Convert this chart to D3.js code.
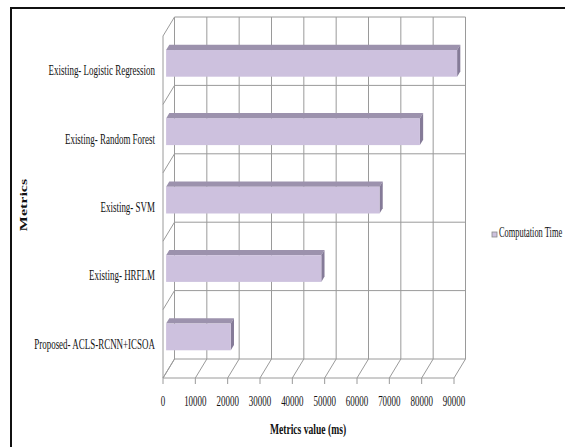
<!DOCTYPE html>
<html>
<head>
<meta charset="utf-8">
<script src="https://cdn.jsdelivr.net/npm/d3@7"></script>
<style>
  body { margin: 0; background: #fff; }
  svg { display: block; }
  text { font-family: "Liberation Serif", "Times New Roman", serif; fill: #111; }
</style>
</head>
<body>
<svg id="chart" width="565" height="447"></svg>
<script>
// Chart data
const categories = [
  "Existing- Logistic Regression",
  "Existing- Random Forest",
  "Existing- SVM",
  "Existing- HRFLM",
  "Proposed- ACLS-RCNN+ICSOA"
];
const computationTime = [90000, 78500, 66000, 48000, 20000];
const xTicks = [0, 10000, 20000, 30000, 40000, 50000, 60000, 70000, 80000, 90000];
const seriesName = "Computation Time";

const svg = d3.select("#chart");

// outer frame
svg.append("rect")
  .attr("x", 11).attr("y", 8)
  .attr("width", 600).attr("height", 500)
  .attr("fill", "none").attr("stroke", "#111").attr("stroke-width", 2);

// 3D depth offset (back wall is up and to the right of the front plane)
const dx = 11.5, dy = -19;
const squeeze = 0.64; // glyphs in the picture are horizontally narrow

const x = d3.scaleLinear().domain([0, 90000]).range([163, 454]);
const y = d3.scaleBand().domain(categories).range([36, 378]);

const gridColor = "#9a9a9a";
const grid = svg.append("g").attr("stroke", gridColor).attr("stroke-width", 1).attr("fill", "none");

// back wall: vertical lines at each tick
grid.selectAll("line.bv")
  .data(xTicks)
  .enter().append("line")
  .attr("x1", d => x(d) + dx).attr("x2", d => x(d) + dx)
  .attr("y1", y.range()[0] + dy).attr("y2", y.range()[1] + dy);

// back wall: horizontal category boundaries
const bounds = categories.map(c => y(c)).concat([y.range()[1]]);
grid.selectAll("line.bh")
  .data(bounds)
  .enter().append("line")
  .attr("x1", x(0) + dx).attr("x2", x(90000) + dx)
  .attr("y1", d => d + dy).attr("y2", d => d + dy);

// left wall: front edge and slanted boundaries
grid.append("line")
  .attr("x1", x(0)).attr("x2", x(0))
  .attr("y1", y.range()[0]).attr("y2", y.range()[1]);
grid.selectAll("line.lw")
  .data(bounds)
  .enter().append("line")
  .attr("x1", x(0)).attr("x2", x(0) + dx)
  .attr("y1", d => d).attr("y2", d => d + dy);

// floor: front edge and slanted lines
grid.append("line")
  .attr("x1", x(0)).attr("x2", x(90000))
  .attr("y1", y.range()[1]).attr("y2", y.range()[1]);
grid.selectAll("line.fl")
  .data(xTicks)
  .enter().append("line")
  .attr("x1", d => x(d)).attr("x2", d => x(d) + dx)
  .attr("y1", y.range()[1]).attr("y2", y.range()[1] + dy);
// tick marks
grid.selectAll("line.tk")
  .data(xTicks)
  .enter().append("line")
  .attr("x1", d => x(d)).attr("x2", d => x(d))
  .attr("y1", y.range()[1]).attr("y2", y.range()[1] + 6);

// bars - a front face, a top face and an end face
const t1 = 0.27, t2 = 0.55; // depth of front and back face of the bar
const barTop = 0.28, barH = 0.39; // fraction of the band
const data = categories.map((c, i) => ({ cat: c, v: computationTime[i] }));

const bars = svg.append("g").selectAll("g.bar")
  .data(data)
  .enter().append("g");

function pt(px, py, t) { return [px + dx * t, py + dy * t]; }

bars.append("path")
  .attr("fill", "#9c92ad")
  .attr("d", d => {
    const yt = y(d.cat) + y.bandwidth() * barTop;
    const p = [pt(x(0), yt, t1), pt(x(d.v), yt, t1), pt(x(d.v), yt, t2), pt(x(0), yt, t2)];
    return "M" + p.join("L") + "Z";
  });
bars.append("path")
  .attr("fill", "#857b98")
  .attr("d", d => {
    const yt = y(d.cat) + y.bandwidth() * barTop;
    const yb = yt + y.bandwidth() * barH;
    const p = [pt(x(d.v), yt, t1), pt(x(d.v), yt, t2), pt(x(d.v), yb, t2), pt(x(d.v), yb, t1)];
    return "M" + p.join("L") + "Z";
  });
bars.append("rect")
  .attr("fill", "#cdc1de")
  .attr("x", x(0) + dx * t1)
  .attr("y", d => y(d.cat) + y.bandwidth() * barTop + dy * t1)
  .attr("width", d => x(d.v) - x(0))
  .attr("height", y.bandwidth() * barH);

// category labels
svg.append("g").selectAll("g.lab")
  .data(categories)
  .enter().append("g")
  .attr("transform", d => `translate(155,${y(d) + y.bandwidth() / 2 + 5}) scale(${squeeze},1)`)
  .append("text")
  .attr("text-anchor", "end")
  .style("font-size", "14px")
  .text(d => d);

// x tick labels
svg.append("g").selectAll("g.tl")
  .data(xTicks)
  .enter().append("g")
  .attr("transform", d => `translate(${x(d)},${y.range()[1] + 28}) scale(${squeeze},1)`)
  .append("text")
  .attr("text-anchor", "middle")
  .style("font-size", "14px")
  .text(d => d);

// axis titles
svg.append("g")
  .attr("transform", `translate(308,434) scale(${squeeze},1)`)
  .append("text")
  .attr("text-anchor", "middle")
  .style("font-size", "15px").style("font-weight", "bold")
  .text("Metrics value (ms)");

svg.append("g")
  .attr("transform", `translate(27,205) scale(${squeeze},1) rotate(-90)`)
  .append("text")
  .attr("text-anchor", "middle")
  .style("font-size", "16px").style("font-weight", "bold")
  .text("Metrics");

// legend
const legend = svg.append("g").attr("transform", "translate(492,232)");
legend.append("rect")
  .attr("width", 5).attr("height", 5)
  .attr("fill", "#cdc1de").attr("stroke", "#8a8a8a").attr("stroke-width", 0.8);
legend.append("g")
  .attr("transform", "translate(7,5) scale(0.6,1)")
  .append("text")
  .style("font-size", "14px")
  .text(seriesName);
</script>
</body>
</html>
